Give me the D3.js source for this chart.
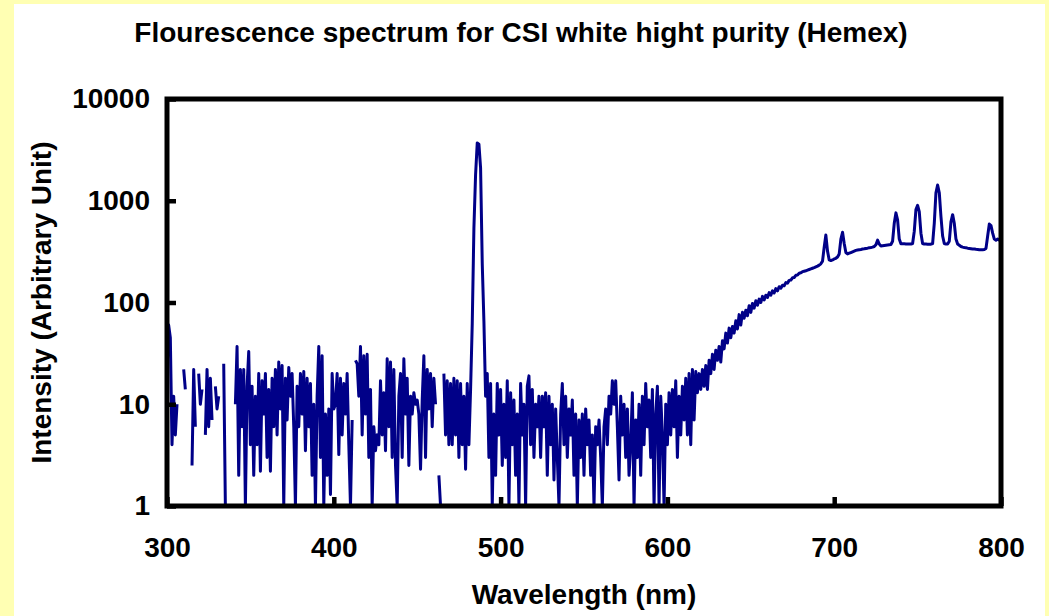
<!DOCTYPE html>
<html>
<head>
<meta charset="utf-8">
<script src="https://cdn.jsdelivr.net/npm/d3@7"></script>
<style>
  body { margin: 0; background: #ffffb3; }
  text { font-family: "Liberation Sans", Arial, sans-serif; font-weight: bold; fill: #000; }
</style>
</head>
<body>
<div id="chart"></div>
<script>
// intensity readings, one per nm; null = zero count (gap on the log axis)
var noiseStart = 300;
var noiseBlue = [
  20, 60, 45, 4, 12, 5, 10, null, null, null,
  22, 14, null, null, null, 2.5, 22, 6, null, 20,
  10, 14, null, 5, 22, 6, 18, 7, null, 15,
  9, 12, null, null, 25, 1, null, null, null, null,
  null, 10, 37, 2, 22, 6, 22, 1, 15, 33,
  4, 15, 2, 12, 4, 20, 2.2, 17, 8, 20,
  3, 14, 2.2, 18, 6, 22, 5, 26, 9, 24,
  1, 18, 7, 23, 12, 20, 6, 1, 15, 6,
  20, 8, 21, 3.5, 18, 6, 16, 2, 10, 1,
  12, 37, 3, 30, 1, 8, 2, 9, 1.3, 20,
  9, 10, 20, 3.2, 18, 5, 16, 8, 20, 4,
  1, 7, null, 27, 25, 12, 37, 5, 30, 8,
  31, 3, 14, 1, 6, 3.5, 5, 4, 17, 5,
  13, 3.5, 28, 6, 26, 3, 22, 2.5, 1, 12,
  20, 3, 28, 8, 18, 2.5, 12, 8, 13, 10,
  11, 8, 2.3, 11, 30, 3, 22, 9, 20, 6,
  18, 10, null, 2, 1, null, 20, 5, 17, 4,
  16, 4, 18, 5, 17, 3, 16, 4, 12, 2.3,
  16, 4, 14
];
var peakStart = 483;
var peakLine = [62, 540, 1800, 3700, 3600, 2100, 240, 65, 12];
var noiseGreenStart = 492;
var noiseGreen = [
  20, 3, 16, 1, 8, 2, 16, 5, 14, 2.5,
  10, 3, 17, 1, 13, 4, 11, 2, 8, 1,
  16, 5, 10, 1, 15, 19, 4, 14, 3, 10,
  6, 12, 3, 12, 6, 13, 2, 12, 4, 10,
  1.8, 9, 3, 1, 8, 16, 4, 12, 3, 9,
  5, 11, 2, 8, 1, 7, 3, 8, 2, 9,
  4, 7, 2, 5, 1, 6, 4, 7, 3, 1,
  6, 9, 4, 12, 8, 17, 10, 17, 6, 1.8,
  12, 5, 10, 3, 9, 2, 4, 13, 1, 7,
  3, 10, 2, 12, 4, 16, 6, 11, 3, 14,
  1, 8, 15, 1, 12, 5, 1, 10, 4, 13,
  5, 14, 6, 17, 3, 12, 5, 15, 7, 18,
  5, 20, 4, 22, 7, 21, 13, 20, 14, 22,
  15
];
var redStart = 623;
var redRise = [
  24, 14, 27, 20, 31, 22, 34, 27, 37, 26,
  42, 35, 50, 40, 56, 45, 58, 50, 66, 55,
  76, 60, 80, 70, 84, 74, 93, 80, 98, 88,
  104, 94, 108, 100, 115, 106, 118, 112, 125, 118,
  130, 124, 137, 130, 143, 138, 148, 146, 157, 155,
  165, 166, 175, 176, 185, 186, 194, 196, 201, 203,
  205, 208, 211, 214, 217, 220, 224, 228, 233, 240,
  255, 350, 460, 320, 262, 258, 262, 268, 272, 280,
  300, 420, 490, 380, 310, 300, 305, 310, 315, 320,
  325, 328, 330, 332, 335, 337, 340, 342, 345, 347,
  350, 355, 370, 410, 375, 360, 362, 364, 366, 368,
  370, 372, 400, 600, 760, 650, 420, 378, 378, 377,
  376, 376, 375, 375, 380, 500, 820, 900, 780, 480,
  380, 375, 375, 374, 374, 374, 380, 600, 1200, 1430,
  1200, 700, 450, 380, 375, 375, 400, 620, 730, 600,
  420, 375, 365, 355, 350, 347, 345, 342, 340, 338,
  336, 335, 333, 332, 330, 330, 330, 332, 340, 450,
  590, 570, 480, 420, 410, 420, 410, 405
];

var xTicks = [300, 400, 500, 600, 700, 800];
var yTicks = [1, 10, 100, 1000, 10000];

var title = 'Flourescence spectrum for CSI white hight purity (Hemex)';
var xTitle = 'Wavelength (nm)';
var yTitle = 'Intensity (Arbitrary Unit)';

function toPoints(start, arr) {
    return arr.map((v, i) => ({ wl: start + i, v: v }));
}
var data = [].concat(
    toPoints(noiseStart, noiseBlue),
    toPoints(peakStart, peakLine),
    toPoints(noiseGreenStart, noiseGreen),
    toPoints(redStart, redRise)
);

var W = 1049, H = 616;
var margin = { top: 99, left: 167, bottom: 110, right: 48 },
    width = W - margin.left - margin.right,
    height = H - margin.top - margin.bottom;

var svg = d3.select('#chart').append('svg')
    .attr('width', W)
    .attr('height', H)
    .style('display', 'block');

// white card over the yellow page
svg.append('rect')
    .attr('x', 14).attr('y', 4)
    .attr('width', 1031).attr('height', H - 4)
    .attr('fill', '#fff');

var g = svg.append('g')
    .attr('transform', 'translate(' + margin.left + ',' + margin.top + ')');

var x = d3.scaleLinear().domain([300, 800]).range([0, width]);
var y = d3.scaleLog().domain([1, 10000]).range([height, 0]);

g.append('clipPath').attr('id', 'plot-clip')
    .append('rect').attr('width', width).attr('height', height);

var line = d3.line()
    .defined(d => d.v != null)
    .x(d => x(d.wl))
    .y(d => y(d.v));

g.append('path')
    .datum(data)
    .attr('clip-path', 'url(#plot-clip)')
    .attr('fill', 'none')
    .attr('stroke', '#000088')
    .attr('stroke-width', 3)
    .attr('stroke-linejoin', 'round')
    .attr('d', line);

var yAxis = d3.axisLeft(y)
    .tickValues(yTicks)
    .tickFormat(d3.format('d'))
    .tickSizeInner(-9)
    .tickSizeOuter(0)
    .tickPadding(17);

var xAxis = d3.axisBottom(x)
    .tickValues(xTicks)
    .tickFormat(d3.format('d'))
    .tickSizeInner(-9)
    .tickSizeOuter(0)
    .tickPadding(31);

var gy = g.append('g').call(yAxis);
var gx = g.append('g').attr('transform', 'translate(0,' + height + ')').call(xAxis);

[gx, gy].forEach(a => {
    a.select('.domain').remove();
    a.selectAll('.tick line').attr('stroke', '#000').attr('stroke-width', 4.5);
    a.selectAll('.tick text')
        .attr('font-size', 28)
        .style('font-family', '"Liberation Sans", Arial, sans-serif')
        .style('font-weight', 'bold');
});

// frame around the plot
g.append('rect')
    .attr('width', width)
    .attr('height', height)
    .attr('fill', 'none')
    .attr('stroke', '#000')
    .attr('stroke-width', 5);

svg.append('text')
    .attr('x', 521)
    .attr('y', 42)
    .attr('text-anchor', 'middle')
    .attr('font-size', 28)
    .text(title);

svg.append('text')
    .attr('x', margin.left + width / 2)
    .attr('y', 604)
    .attr('text-anchor', 'middle')
    .attr('font-size', 28)
    .text(xTitle);

svg.append('text')
    .attr('transform', 'translate(51,' + (margin.top + height / 2) + ') rotate(-90)')
    .attr('text-anchor', 'middle')
    .attr('font-size', 28)
    .text(yTitle);
</script>
</body>
</html>
